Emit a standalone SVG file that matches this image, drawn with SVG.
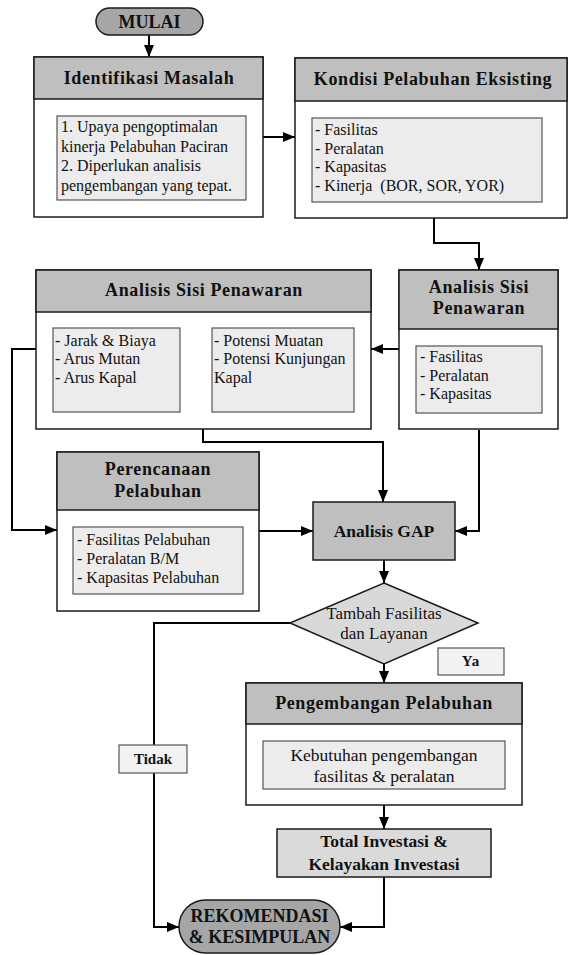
<svg xmlns="http://www.w3.org/2000/svg" width="568" height="955" viewBox="0 0 568 955">
<style>
.frame{fill:#ffffff;stroke:#1a1a1a;stroke-width:1.5}
.head{fill:#bfbfbf;stroke:#1a1a1a;stroke-width:1.5}
.inner{fill:#ececec;stroke:#555555;stroke-width:1.2}
.term{fill:#a6a6a6;stroke:#1a1a1a;stroke-width:1.5}
.lbl{fill:#f2f2f2;stroke:#555555;stroke-width:1.2}
.conn{fill:none;stroke:#000000;stroke-width:2}
text{font-family:"Liberation Serif","Times New Roman",serif}
.h{font-weight:bold;font-size:18px;letter-spacing:0.6px;text-anchor:middle;fill:#111111}
.hb{font-weight:bold;font-size:17.5px;text-anchor:middle;fill:#111111}
.b{font-size:16px;fill:#111111}
.bc{font-size:17.5px;text-anchor:middle;fill:#111111}
.s{font-weight:bold;font-size:15px;text-anchor:middle;fill:#111111}
</style>
<defs>
<marker id="arr" viewBox="0 0 12 10" markerWidth="12" markerHeight="10" refX="12" refY="5" orient="auto" markerUnits="userSpaceOnUse">
<path d="M0,0 L12,5 L0,10 Z" fill="#000000"/>
</marker>
</defs>

<g id="connectors">
<path class="conn" d="M149,35 V57" marker-end="url(#arr)"/>
<path class="conn" d="M263,137 H295" marker-end="url(#arr)"/>
<path class="conn" d="M434,218 V243 H479 V270" marker-end="url(#arr)"/>
<path class="conn" d="M399,349 H371" marker-end="url(#arr)"/>
<path class="conn" d="M180,369 H212" marker-end="url(#arr)"/>
<path class="conn" d="M36,349 H12 V530 H57" marker-end="url(#arr)"/>
<path class="conn" d="M203,429 V442 H383 V502" marker-end="url(#arr)"/>
<path class="conn" d="M479,430 V531 H455" marker-end="url(#arr)"/>
<path class="conn" d="M259,531 H313" marker-end="url(#arr)"/>
<path class="conn" d="M384,560 V583" marker-end="url(#arr)"/>
<path class="conn" d="M384,664 V683" marker-end="url(#arr)"/>
<path class="conn" d="M290,623 H154 V927 H179" marker-end="url(#arr)"/>
<path class="conn" d="M384,805 V829" marker-end="url(#arr)"/>
<path class="conn" d="M384,877 V927 H340" marker-end="url(#arr)"/>
</g>

<g id="mulai">
<rect class="term" x="96" y="8" width="107" height="27" rx="13.5"/>
<text class="hb" x="149.5" y="28" style="font-size:18px">MULAI</text>
</g>

<g id="identifikasi">
<rect class="frame" x="34" y="57" width="229" height="160"/>
<rect class="head" x="34" y="57" width="229" height="42"/>
<text class="h" x="149" y="84">Identifikasi Masalah</text>
<rect class="inner" x="57" y="116" width="189" height="84"/>
<text class="b" x="61" y="132">1. Upaya pengoptimalan</text>
<text class="b" x="61" y="152">kinerja Pelabuhan Paciran</text>
<text class="b" x="61" y="171">2. Diperlukan analisis</text>
<text class="b" x="61" y="191">pengembangan yang tepat.</text>
</g>

<g id="kondisi">
<rect class="frame" x="295" y="58" width="272" height="160"/>
<rect class="head" x="295" y="58" width="272" height="43"/>
<text class="h" x="433" y="85">Kondisi Pelabuhan Eksisting</text>
<rect class="inner" x="312" y="118" width="230" height="84"/>
<text class="b" x="315" y="135">- Fasilitas</text>
<text class="b" x="315" y="153.5">- Peralatan</text>
<text class="b" x="315" y="172">- Kapasitas</text>
<text class="b" x="315" y="190.5" xml:space="preserve">- Kinerja  (BOR, SOR, YOR)</text>
</g>

<g id="analisis-kanan">
<rect class="frame" x="399" y="270" width="159" height="159"/>
<rect class="head" x="399" y="270" width="159" height="59"/>
<text class="h" x="479" y="293">Analisis Sisi</text>
<text class="h" x="479" y="314">Penawaran</text>
<rect class="inner" x="416" y="346" width="126" height="67"/>
<text class="b" x="420" y="362">- Fasilitas</text>
<text class="b" x="420" y="381">- Peralatan</text>
<text class="b" x="420" y="399">- Kapasitas</text>
</g>

<g id="analisis-kiri">
<rect class="frame" x="36" y="270" width="335" height="159"/>
<rect class="head" x="36" y="270" width="335" height="42"/>
<text class="h" x="204" y="296">Analisis Sisi Penawaran</text>
<rect class="inner" x="53" y="328" width="127" height="84"/>
<text class="b" x="55" y="346">- Jarak &amp; Biaya</text>
<text class="b" x="55" y="364">- Arus Mutan</text>
<text class="b" x="55" y="383">- Arus Kapal</text>
<rect class="inner" x="212" y="328" width="142" height="84"/>
<text class="b" x="214" y="346">- Potensi Muatan</text>
<text class="b" x="214" y="364">- Potensi Kunjungan</text>
<text class="b" x="214" y="383">Kapal</text>
</g>

<g id="perencanaan">
<rect class="frame" x="57" y="452" width="202" height="159"/>
<rect class="head" x="57" y="452" width="202" height="58"/>
<text class="h" x="158" y="475">Perencanaan</text>
<text class="h" x="158" y="497">Pelabuhan</text>
<rect class="inner" x="73" y="527" width="170" height="67"/>
<text class="b" x="77" y="545">- Fasilitas Pelabuhan</text>
<text class="b" x="77" y="564">- Peralatan B/M</text>
<text class="b" x="77" y="583">- Kapasitas Pelabuhan</text>
</g>

<g id="gap">
<rect class="head" x="313" y="502" width="142" height="58"/>
<text class="hb" x="384" y="537">Analisis GAP</text>
</g>

<g id="keputusan">
<polygon points="384,583 478,623 384,664 290,623" fill="#d9d9d9" stroke="#1a1a1a" stroke-width="1.5"/>
<text class="bc" x="384" y="619" style="font-size:17px">Tambah Fasilitas</text>
<text class="bc" x="384" y="639" style="font-size:17px">dan Layanan</text>
</g>

<g id="ya">
<rect class="lbl" x="438" y="648" width="66" height="27"/>
<text class="s" x="471" y="666" style="letter-spacing:1px">Ya</text>
</g>

<g id="tidak">
<rect class="lbl" x="119" y="745" width="68" height="28"/>
<text class="s" x="153" y="764">Tidak</text>
</g>

<g id="pengembangan">
<rect class="frame" x="246" y="683" width="276" height="122"/>
<rect class="head" x="246" y="683" width="276" height="41"/>
<text class="h" x="384" y="709">Pengembangan Pelabuhan</text>
<rect class="inner" x="263" y="741" width="242" height="48"/>
<text class="bc" x="384" y="761">Kebutuhan pengembangan</text>
<text class="bc" x="384" y="782">fasilitas &amp; peralatan</text>
</g>

<g id="investasi">
<rect x="277" y="829" width="214" height="48" fill="#dadada" stroke="#1a1a1a" stroke-width="1.5"/>
<text class="hb" x="384" y="847">Total Investasi &amp;</text>
<text class="hb" x="384" y="870">Kelayakan Investasi</text>
</g>

<g id="rekomendasi">
<rect class="term" x="179" y="900" width="161" height="53" rx="26.5"/>
<text class="hb" x="259.5" y="922" style="font-size:18px">REKOMENDASI</text>
<text class="hb" x="259.5" y="943" style="font-size:18px">&amp; KESIMPULAN</text>
</g>
</svg>
